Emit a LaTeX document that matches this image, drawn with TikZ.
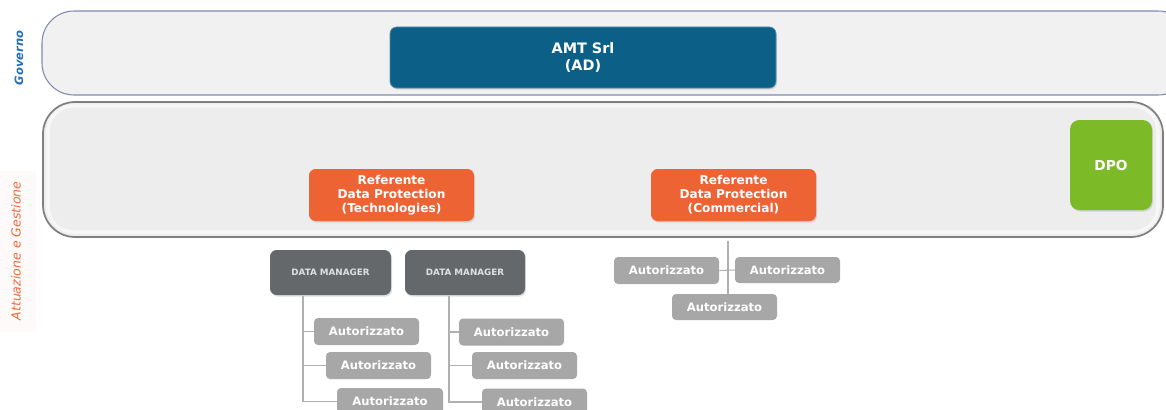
\documentclass[tikz,border=0pt]{standalone}
\usepackage{fontspec}
\setmainfont{DejaVu Sans}
\usetikzlibrary{shadows}
\definecolor{bandA}{HTML}{F1F1F1}
\definecolor{bandAline}{HTML}{7D8BAF}
\definecolor{bandB}{HTML}{EDEDED}
\definecolor{bandBline}{HTML}{7F7F7F}
\definecolor{amtblue}{HTML}{0C6088}
\definecolor{refor}{HTML}{EE6333}
\definecolor{dpogreen}{HTML}{7DBA27}
\definecolor{dmgrey}{HTML}{65686B}
\definecolor{autgrey}{HTML}{A7A7A7}
\definecolor{linegrey}{HTML}{B0B0B0}
\definecolor{govblue}{HTML}{2470B8}
\definecolor{attor}{HTML}{EE6A3A}
\tikzset{
  band/.style={rounded corners=24pt, line width=0.8pt},
  boxbase/.style={rounded corners=5pt, text=white, font=\bfseries, align=center, inner sep=0pt, drop shadow={shadow xshift=0.8pt, shadow yshift=-1.2pt, opacity=0.25}},
  amt/.style={boxbase, fill=amtblue, draw=amtblue!70!white, line width=0.6pt, font=\bfseries\fontsize{10.8}{13.4}\selectfont},
  ref/.style={boxbase, fill=refor, font=\bfseries\fontsize{9.1}{10.4}\selectfont},
  dpo/.style={boxbase, fill=dpogreen, rounded corners=7pt, font=\bfseries\fontsize{10.3}{12}\selectfont},
  dm/.style={boxbase, fill=dmgrey, text=white!88!black, font=\bfseries\fontsize{6.6}{8}\selectfont},
  aut/.style={rounded corners=3pt, fill=autgrey, text=white, font=\bfseries\fontsize{8.7}{10}\selectfont, inner sep=0pt},
  conn/.style={draw=linegrey, line width=0.8pt},
}
\begin{document}
\begin{tikzpicture}[x=0.75pt, y=-0.75pt]
\useasboundingbox (0,0) rectangle (1166,410);
\clip (0,0) rectangle (1166,410);
% side labels
\fill[red!2] (0,171) rectangle (36,332);
\node[rotate=90, text=govblue, font=\bfseries\itshape\fontsize{8.6}{10}\selectfont] (gov) at (19,58) {Governo};
\node[rotate=90, text=attor, font=\itshape\fontsize{9.4}{12}\selectfont] (att) at (16,251) {Attuazione e Gestione};
% bands
\draw[band, fill=bandA, draw=bandAline] (42,11) rectangle (1190,95);
\draw[band, fill=bandB, draw=bandBline, line width=1.3pt] (43,102) rectangle (1163,237);
\draw[rounded corners=19pt, draw=white, line width=2.5pt, opacity=0.6] (48,106) rectangle (1158,232);
% main boxes
\node[amt, minimum width=0.75*386pt, minimum height=0.75*61pt] (amt) at (583,57.5) {AMT Srl\\(AD)};
\node[ref, minimum width=0.75*165pt, minimum height=0.75*52pt] (reft) at (391.5,195) {Referente\\Data Protection\\(Technologies)};
\node[ref, minimum width=0.75*165pt, minimum height=0.75*52pt] (refc) at (733.5,195) {Referente\\Data Protection\\(Commercial)};
\node[dpo, minimum width=0.75*82pt, minimum height=0.75*90pt] (dpo) at (1111,165) {DPO};
% data managers
\node[dm, minimum width=0.75*121pt, minimum height=0.75*45pt] (dm1) at (330.5,272.5) {DATA MANAGER};
\node[dm, minimum width=0.75*120pt, minimum height=0.75*45pt] (dm2) at (465,272.5) {DATA MANAGER};
% autorizzati DM1
\node[aut, minimum width=0.75*105pt, minimum height=0.75*27pt] (a11) at (366.5,331.5) {Autorizzato};
\node[aut, minimum width=0.75*105pt, minimum height=0.75*27pt] (a12) at (378.5,365.5) {Autorizzato};
\node[aut, minimum width=0.75*106pt, minimum height=0.75*27pt] (a13) at (390,401.5) {Autorizzato};
% autorizzati DM2
\node[aut, minimum width=0.75*105pt, minimum height=0.75*27pt] (a21) at (511.5,332) {Autorizzato};
\node[aut, minimum width=0.75*105pt, minimum height=0.75*27pt] (a22) at (524.5,365.5) {Autorizzato};
\node[aut, minimum width=0.75*105pt, minimum height=0.75*27pt] (a23) at (534.5,402) {Autorizzato};
% autorizzati commercial
\node[aut, minimum width=0.75*105pt, minimum height=0.75*27pt] (c1) at (666.5,270.5) {Autorizzato};
\node[aut, minimum width=0.75*105pt, minimum height=0.75*26pt] (c2) at (787.5,270) {Autorizzato};
\node[aut, minimum width=0.75*105pt, minimum height=0.75*26pt] (c3) at (724.5,307) {Autorizzato};
% connectors
\coordinate (t1) at (303,296);
\coordinate (t2) at (449,296);
\draw[conn] (t1) |- (a13.west);
\draw[conn] (t1 |- a11.west) -- (a11.west);
\draw[conn] (t1 |- a12.west) -- (a12.west);
\draw[conn] (t2) |- (a23.west);
\draw[conn] (t2 |- a21.west) -- (a21.west);
\draw[conn] (t2 |- a22.west) -- (a22.west);
\coordinate (tc) at (728,241);
\draw[conn] (tc) -- (tc |- c3.north);
\draw[conn] (c1.east) -- (c2.west);
\end{tikzpicture}
\end{document}
